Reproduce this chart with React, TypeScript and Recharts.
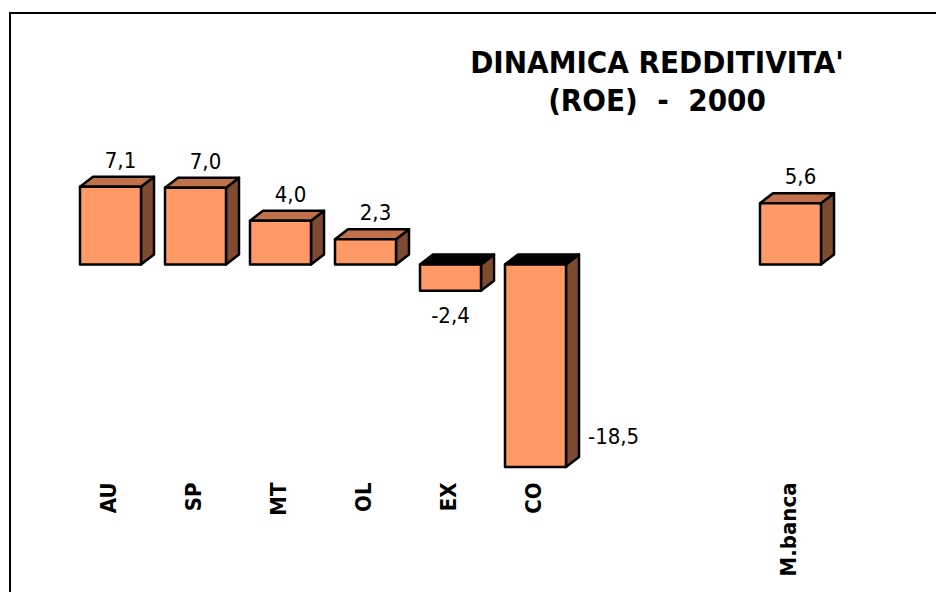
import { BarChart, Bar, XAxis, YAxis } from 'recharts'

const categories = ['AU', 'SP', 'MT', 'OL', 'EX', 'CO', '', '', 'M.banca']
const roe = [7.1, 7.0, 4.0, 2.3, -2.4, -18.5, null, null, 5.6]

const titleLines = ["DINAMICA REDDITIVITA'", '(ROE)  -  2000']

const data = categories.map((name, i) => ({ name, roe: roe[i] }))

const FONT = "'DejaVu Sans Condensed', 'DejaVu Sans', sans-serif"
const DX = 13
const DY = 10
const LABEL_ZONE_TOP = 470

const fmt = (v: number) => v.toFixed(1).replace('.', ',')

function Box3D(props: any) {
  const { x, y, width, height, payload } = props
  const v = payload?.roe
  if (v == null || width == null) return null
  const top = Math.min(y, y + height)
  const h = Math.abs(height)
  const neg = v < 0
  const right = x + width
  const bottom = top + h
  const stroke = { stroke: '#000', strokeWidth: 2.5, strokeLinejoin: 'round' as const }

  let label
  if (!neg) {
    label = (
      <text x={x + width / 2 + 10} y={top - 19} textAnchor='middle' fontSize={22} fontFamily={FONT} fill='#000'>
        {fmt(v)}
      </text>
    )
  } else if (bottom + 32 < LABEL_ZONE_TOP) {
    label = (
      <text x={x + width / 2} y={bottom + 32} textAnchor='middle' fontSize={22} fontFamily={FONT} fill='#000'>
        {fmt(v)}
      </text>
    )
  } else {
    label = (
      <text x={right + DX + 9} y={bottom - 23} textAnchor='start' fontSize={22} fontFamily={FONT} fill='#000'>
        {fmt(v)}
      </text>
    )
  }

  return (
    <g>
      <polygon
        points={`${right},${top} ${right + DX},${top - DY} ${right + DX},${bottom - DY} ${right},${bottom}`}
        fill='#7F4B30'
        {...stroke}
      />
      <polygon
        points={`${x},${top} ${x + DX},${top - DY} ${right + DX},${top - DY} ${right},${top}`}
        fill={neg ? '#000' : '#C0704A'}
        {...stroke}
      />
      <rect x={x} y={top} width={width} height={h} fill='#FF9966' {...stroke} />
      {label}
    </g>
  )
}

function CategoryTick(props: any) {
  const { x, y, payload } = props
  return (
    <text
      x={x + 5}
      y={y - 1}
      transform={`rotate(-90, ${x + 5}, ${y - 1})`}
      textAnchor='end'
      fontSize={22}
      fontWeight='bold'
      fontFamily={FONT}
      fill='#000'
    >
      {payload.value}
    </text>
  )
}

export default function App() {
  return (
    <div
      style={{
        position: 'absolute',
        left: 0,
        top: 0,
        width: 936,
        height: 592,
        overflow: 'hidden',
        background: '#fff',
      }}
    >
      <div
        style={{
          position: 'absolute',
          left: 9,
          top: 12,
          width: 1200,
          height: 900,
          border: '2.5px solid #000',
        }}
      />
      <div
        style={{
          position: 'absolute',
          left: 457,
          top: 43,
          width: 400,
          textAlign: 'center',
          fontFamily: FONT,
          fontWeight: 'bold',
          fontSize: 31,
          lineHeight: '38px',
          color: '#000',
          whiteSpace: 'pre',
        }}
      >
        {titleLines.map((t) => (
          <div key={t}>{t}</div>
        ))}
      </div>
      <div style={{ position: 'absolute', left: 0, top: 0 }}>
        <BarChart
          width={936}
          height={592}
          data={data}
          margin={{ top: 155, right: 103, left: 68, bottom: 8.5 }}
          barSize={61}
        >
          <XAxis
            dataKey='name'
            axisLine={false}
            tickLine={false}
            tickSize={0}
            tickMargin={0}
            height={100}
            interval={0}
            tick={<CategoryTick />}
          />
          <YAxis hide domain={[-20, 10]} />
          <Bar dataKey='roe' shape={<Box3D />} isAnimationActive={false} />
        </BarChart>
      </div>
    </div>
  )
}
